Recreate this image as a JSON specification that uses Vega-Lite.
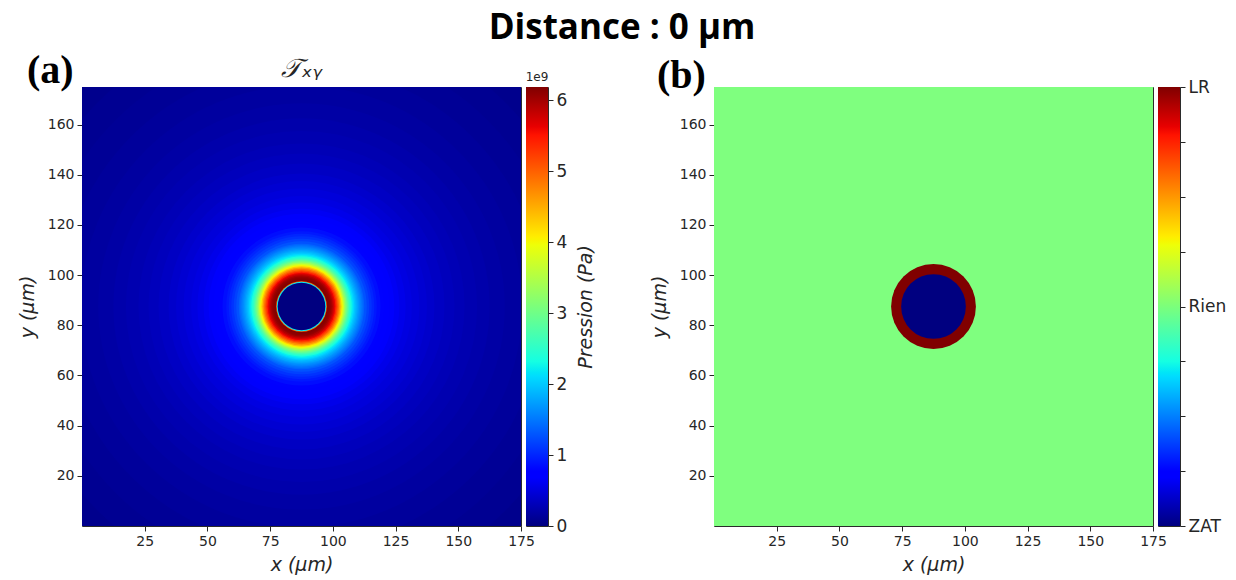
{
  "$schema": "https://vega.github.io/schema/vega-lite/v6.json",
  "padding": {"left": 17, "top": 10, "right": 5, "bottom": 5},
  "background": "white",
  "title": {"text": "Distance : 0 µm", "font": "Open Sans", "fontSize": 35, "fontWeight": "bold", "color": "#000000", "anchor": "middle", "offset": 5},
  "spacing": 52,
  "hconcat": [
    {
      "title": {"text": "(a)", "font": "Liberation Serif", "fontSize": 40, "fontWeight": "bold", "color": "#000000", "anchor": "start", "frame": "group", "dx": -55, "dy": 29, "offset": -6},
      "bounds": "flush",
      "spacing": 5,
      "hconcat": [
        {
          "width": 439,
          "height": 439,
          "title": {"text": "𝒯ₓᵧ", "font": "DejaVu Sans", "fontSize": 26, "fontWeight": "normal", "fontStyle": "italic", "color": "#262626", "offset": 5},
          "data": {"values": [
            {"cx": 87.5, "cy": 87.5, "r": 130, "p": 0.07},
            {"cx": 87.5, "cy": 87.5, "r": 115, "p": 0.095},
            {"cx": 87.5, "cy": 87.5, "r": 105, "p": 0.12},
            {"cx": 87.5, "cy": 87.5, "r": 96, "p": 0.145},
            {"cx": 87.5, "cy": 87.5, "r": 88, "p": 0.17},
            {"cx": 87.5, "cy": 87.5, "r": 81, "p": 0.2},
            {"cx": 87.5, "cy": 87.5, "r": 75, "p": 0.23},
            {"cx": 87.5, "cy": 87.5, "r": 70, "p": 0.26},
            {"cx": 87.5, "cy": 87.5, "r": 65, "p": 0.29},
            {"cx": 87.5, "cy": 87.5, "r": 61, "p": 0.32},
            {"cx": 87.5, "cy": 87.5, "r": 57, "p": 0.36},
            {"cx": 87.5, "cy": 87.5, "r": 53, "p": 0.4},
            {"cx": 87.5, "cy": 87.5, "r": 50, "p": 0.44},
            {"cx": 87.5, "cy": 87.5, "r": 47, "p": 0.48},
            {"cx": 87.5, "cy": 87.5, "r": 44, "p": 0.52},
            {"cx": 87.5, "cy": 87.5, "r": 41.5, "p": 0.57},
            {"cx": 87.5, "cy": 87.5, "r": 39, "p": 0.62},
            {"cx": 87.5, "cy": 87.5, "r": 37, "p": 0.67},
            {"cx": 87.5, "cy": 87.5, "r": 35, "p": 0.72},
            {"cx": 87.5, "cy": 87.5, "r": 33, "p": 0.78},
            {"cx": 87.5, "cy": 87.5, "r": 31.5, "p": 0.85},
            {"cx": 87.5, "cy": 87.5, "r": 30, "p": 0.92},
            {"cx": 87.5, "cy": 87.5, "r": 29, "p": 1.0},
            {"cx": 87.5, "cy": 87.5, "r": 28, "p": 1.08},
            {"cx": 87.5, "cy": 87.5, "r": 27, "p": 1.17},
            {"cx": 87.5, "cy": 87.5, "r": 26, "p": 1.27},
            {"cx": 87.5, "cy": 87.5, "r": 25, "p": 1.38},
            {"cx": 87.5, "cy": 87.5, "r": 24.5, "p": 1.46},
            {"cx": 87.5, "cy": 87.5, "r": 24, "p": 1.54},
            {"cx": 87.5, "cy": 87.5, "r": 23.5, "p": 1.62},
            {"cx": 87.5, "cy": 87.5, "r": 23, "p": 1.7},
            {"cx": 87.5, "cy": 87.5, "r": 22.5, "p": 1.79},
            {"cx": 87.5, "cy": 87.5, "r": 22, "p": 1.88},
            {"cx": 87.5, "cy": 87.5, "r": 21.5, "p": 1.98},
            {"cx": 87.5, "cy": 87.5, "r": 21, "p": 2.09},
            {"cx": 87.5, "cy": 87.5, "r": 20.5, "p": 2.21},
            {"cx": 87.5, "cy": 87.5, "r": 20, "p": 2.35},
            {"cx": 87.5, "cy": 87.5, "r": 19.5, "p": 2.51},
            {"cx": 87.5, "cy": 87.5, "r": 19, "p": 2.69},
            {"cx": 87.5, "cy": 87.5, "r": 18.5, "p": 2.9},
            {"cx": 87.5, "cy": 87.5, "r": 18, "p": 3.15},
            {"cx": 87.5, "cy": 87.5, "r": 17.5, "p": 3.42},
            {"cx": 87.5, "cy": 87.5, "r": 17, "p": 3.72},
            {"cx": 87.5, "cy": 87.5, "r": 16.5, "p": 4.02},
            {"cx": 87.5, "cy": 87.5, "r": 16, "p": 4.32},
            {"cx": 87.5, "cy": 87.5, "r": 15.5, "p": 4.62},
            {"cx": 87.5, "cy": 87.5, "r": 15, "p": 4.9},
            {"cx": 87.5, "cy": 87.5, "r": 14.5, "p": 5.15},
            {"cx": 87.5, "cy": 87.5, "r": 14, "p": 5.4},
            {"cx": 87.5, "cy": 87.5, "r": 13.5, "p": 5.62},
            {"cx": 87.5, "cy": 87.5, "r": 13, "p": 5.8},
            {"cx": 87.5, "cy": 87.5, "r": 12.5, "p": 5.95},
            {"cx": 87.5, "cy": 87.5, "r": 12, "p": 6.06},
            {"cx": 87.5, "cy": 87.5, "r": 11.5, "p": 6.12},
            {"cx": 87.5, "cy": 87.5, "r": 11, "p": 6.16},
            {"cx": 87.5, "cy": 87.5, "r": 10.5, "p": 6.18},
            {"cx": 87.5, "cy": 87.5, "r": 10.1, "p": 5.0},
            {"cx": 87.5, "cy": 87.5, "r": 9.85, "p": 2.2},
            {"cx": 87.5, "cy": 87.5, "r": 9.5, "p": 0}
          ]},
          "mark": {"type": "point", "shape": "circle", "filled": true, "opacity": 1, "strokeWidth": 0, "clip": true},
          "encoding": {
            "x": {"field": "cx", "type": "quantitative", "scale": {"domain": [0, 175], "nice": false, "zero": false}, "axis": {"values": [25, 50, 75, 100, 125, 150, 175], "title": "x (µm)"}},
            "y": {"field": "cy", "type": "quantitative", "scale": {"domain": [0, 175], "nice": false, "zero": false}, "axis": {"values": [20, 40, 60, 80, 100, 120, 140, 160], "title": "y (µm)", "titlePadding": 10}},
            "size": {"field": "r", "type": "quantitative", "scale": {"type": "pow", "exponent": 2, "domain": [0, 87.5], "range": [0, 192721]}, "legend": null},
            "color": {"field": "p", "type": "quantitative", "scale": {"domain": [0, 0.681, 0.774, 2.105, 2.167, 2.321, 3.962, 4.024, 4.085, 5.509, 5.633, 6.19], "range": ["#000080", "#0000ff", "#0000ff", "#00dbff", "#00e6f7", "#15ffe2", "#eeff08", "#f7f600", "#ffec00", "#ff1300", "#e80000", "#800000"], "interpolate": "rgb"}, "legend": null}
          }
        },
        {
          "width": 22,
          "height": 439,
          "title": {"text": "1e9", "font": "DejaVu Sans", "fontSize": 12, "fontWeight": "normal", "color": "#262626", "offset": 3},
          "data": {"values": [{"lo": 0, "hi": 6.19}]},
          "mark": {"type": "rect", "fill": {"gradient": "linear", "x1": 0, "y1": 1, "x2": 0, "y2": 0, "stops": [
            {"offset": 0, "color": "#000080"}, {"offset": 0.11, "color": "#0000ff"}, {"offset": 0.125, "color": "#0000ff"}, {"offset": 0.34, "color": "#00dbff"}, {"offset": 0.35, "color": "#00e6f7"}, {"offset": 0.375, "color": "#15ffe2"}, {"offset": 0.64, "color": "#eeff08"}, {"offset": 0.65, "color": "#f7f600"}, {"offset": 0.66, "color": "#ffec00"}, {"offset": 0.89, "color": "#ff1300"}, {"offset": 0.91, "color": "#e80000"}, {"offset": 1, "color": "#800000"}]}},
          "encoding": {
            "y": {"field": "lo", "type": "quantitative", "scale": {"domain": [0, 6.19], "nice": false, "zero": false}, "axis": {"orient": "right", "values": [0, 1, 2, 3, 4, 5, 6], "labelFontSize": 17, "title": "Pression (Pa)", "titleAngle": 270, "titleBaseline": "top", "titleFontSize": 19, "titlePadding": 10}},
            "y2": {"field": "hi"}
          }
        }
      ]
    },
    {
      "title": {"text": "(b)", "font": "Liberation Serif", "fontSize": 40, "fontWeight": "bold", "color": "#000000", "anchor": "start", "frame": "group", "dx": -57, "dy": 12, "offset": -6},
      "bounds": "flush",
      "spacing": 5,
      "hconcat": [
        {
          "width": 439,
          "height": 439,
          "data": {"values": [
            {"cx": 87.5, "cy": 87.5, "r": 130, "zone": "Rien"},
            {"cx": 87.5, "cy": 87.5, "r": 16.9, "zone": "LR"},
            {"cx": 87.5, "cy": 87.5, "r": 12.9, "zone": "ZAT"}
          ]},
          "mark": {"type": "point", "shape": "circle", "filled": true, "opacity": 1, "strokeWidth": 0, "clip": true},
          "encoding": {
            "x": {"field": "cx", "type": "quantitative", "scale": {"domain": [0, 175], "nice": false, "zero": false}, "axis": {"values": [25, 50, 75, 100, 125, 150, 175], "title": "x (µm)"}},
            "y": {"field": "cy", "type": "quantitative", "scale": {"domain": [0, 175], "nice": false, "zero": false}, "axis": {"values": [20, 40, 60, 80, 100, 120, 140, 160], "title": "y (µm)", "titlePadding": 10}},
            "size": {"field": "r", "type": "quantitative", "scale": {"type": "pow", "exponent": 2, "domain": [0, 87.5], "range": [0, 192721]}, "legend": null},
            "color": {"field": "zone", "type": "nominal", "scale": {"domain": ["ZAT", "Rien", "LR"], "range": ["#000080", "#7fff7f", "#800000"]}, "legend": null}
          }
        },
        {
          "width": 22,
          "height": 439,
          "data": {"values": [{"lo": 0, "hi": 8}]},
          "mark": {"type": "rect", "fill": {"gradient": "linear", "x1": 0, "y1": 1, "x2": 0, "y2": 0, "stops": [
            {"offset": 0, "color": "#000080"}, {"offset": 0.11, "color": "#0000ff"}, {"offset": 0.125, "color": "#0000ff"}, {"offset": 0.34, "color": "#00dbff"}, {"offset": 0.35, "color": "#00e6f7"}, {"offset": 0.375, "color": "#15ffe2"}, {"offset": 0.64, "color": "#eeff08"}, {"offset": 0.65, "color": "#f7f600"}, {"offset": 0.66, "color": "#ffec00"}, {"offset": 0.89, "color": "#ff1300"}, {"offset": 0.91, "color": "#e80000"}, {"offset": 1, "color": "#800000"}]}},
          "encoding": {
            "y": {"field": "lo", "type": "quantitative", "scale": {"domain": [0, 8], "nice": false, "zero": false}, "axis": {"orient": "right", "values": [0, 1, 2, 3, 4, 5, 6, 7, 8], "labelFontSize": 17, "labelExpr": "datum.value == 0 ? 'ZAT' : datum.value == 4 ? 'Rien' : datum.value == 8 ? 'LR' : ''", "title": null}},
            "y2": {"field": "hi"}
          }
        }
      ]
    }
  ],
  "config": {
    "view": {"stroke": "#2b2b2b", "strokeWidth": 1},
    "axis": {"labelFont": "DejaVu Sans", "labelFontSize": 14, "labelColor": "#262626", "labelPadding": 3, "labelFlush": false, "labelOverlap": false, "tickColor": "#262626", "tickSize": 5, "tickWidth": 1, "domain": false, "grid": false, "titleFont": "DejaVu Sans", "titleFontSize": 19, "titleFontWeight": "normal", "titleFontStyle": "italic", "titleColor": "#262626", "titlePadding": 7}
  }
}
